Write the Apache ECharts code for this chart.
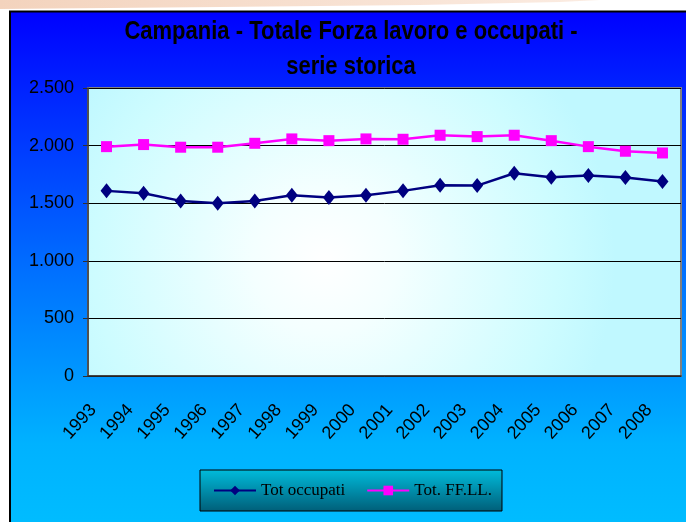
<!DOCTYPE html>
<html>
<head>
<meta charset="utf-8">
<script src="https://cdn.jsdelivr.net/npm/echarts@6/dist/echarts.min.js"></script>
<style>
  html, body { margin: 0; padding: 0; background: #fff; }
  #chart { width: 686px; height: 522px; }
</style>
</head>
<body>
<div id="chart"></div>
<script>
// dati (migliaia)
var anni = ['1993', '1994', '1995', '1996', '1997', '1998', '1999', '2000',
  '2001', '2002', '2003', '2004', '2005', '2006', '2007', '2008'];
var totOccupati = [1607, 1587, 1520, 1500, 1520, 1569, 1549, 1569,
  1607, 1656, 1653, 1760, 1726, 1740, 1723, 1688];
var totFFLL = [1991, 2009, 1986, 1986, 2020, 2058, 2043, 2058,
  2055, 2090, 2078, 2090, 2043, 1991, 1951, 1936];
var titolo = ['Campania - Totale Forza lavoro e occupati -', 'serie storica'];
var yMin = 0, yMax = 2500, yStep = 500;

var myChart = echarts.init(document.getElementById('chart'), null, { renderer: 'canvas' });

// separatore delle migliaia con il punto
function fmt (v) {
  return String(v).replace(/\B(?=(\d{3})+(?!\d))/g, '.');
}

var option = {
  animation: false,
  backgroundColor: '#ffffff',
  color: ['#000080', '#ff00ff'],
  graphic: [
    // fascia color pesca in alto
    {
      type: 'polygon',
      z: -20,
      shape: { points: [[0, 0], [600, 0], [560, 2], [420, 5], [220, 7], [0, 9]] },
      style: {
        fill: new echarts.graphic.LinearGradient(0, 0, 1, 0, [
          { offset: 0, color: '#f3d3bd' },
          { offset: 1, color: '#fbece2' }
        ])
      }
    },
    // sfondo blu del riquadro
    {
      type: 'rect',
      z: -10,
      shape: { x: 10, y: 11.5, width: 700, height: 600 },
      style: {
        fill: new echarts.graphic.LinearGradient(0, 0, 0, 1, [
          { offset: 0, color: '#0000ff' },
          { offset: 0.15, color: '#0028ff' },
          { offset: 0.45, color: '#0074ff' },
          { offset: 0.72, color: '#00b2ff' },
          { offset: 1, color: '#00c8ff' }
        ]),
        stroke: '#000000',
        lineWidth: 2
      }
    },
    {
      type: 'text',
      x: 351,
      y: 32,
      scaleY: 1.15,
      style: {
        text: titolo[0],
        textAlign: 'center',
        textVerticalAlign: 'middle',
        font: 'bold 22px "Liberation Sans", Arial, sans-serif',
        fill: '#000000'
      }
    },
    {
      type: 'text',
      x: 351,
      y: 67,
      scaleY: 1.15,
      style: {
        text: titolo[1],
        textAlign: 'center',
        textVerticalAlign: 'middle',
        font: 'bold 22px "Liberation Sans", Arial, sans-serif',
        fill: '#000000'
      }
    }
  ],
  legend: {
    left: 200,
    top: 470,
    padding: [12, 10, 12, 13],
    itemGap: 21,
    itemWidth: 42,
    itemHeight: 12,
    backgroundColor: new echarts.graphic.LinearGradient(0, 0, 0, 1, [
      { offset: 0, color: '#00bcdc' },
      { offset: 1, color: '#005e78' }
    ]),
    borderColor: '#000000',
    borderWidth: 1,
    textStyle: {
      color: '#000000',
      fontFamily: '"Liberation Serif", "Times New Roman", serif',
      fontSize: 17
    }
  },
  grid: {
    left: 88,
    right: 5,
    top: 88,
    bottom: 146,
    show: true,
    borderColor: '#808080',
    borderWidth: 2,
    backgroundColor: new echarts.graphic.RadialGradient(0.4, 0.6, 1, [
      { offset: 0, color: '#ffffff' },
      { offset: 0.25, color: '#f4ffff' },
      { offset: 0.8, color: '#cdfcff' },
      { offset: 1, color: '#c0f8ff' }
    ])
  },
  xAxis: {
    type: 'category',
    data: anni,
    boundaryGap: true,
    axisLine: { lineStyle: { color: '#303030', width: 1.5 } },
    axisTick: { length: 5, lineStyle: { color: '#303030', width: 1.5 } },
    axisLabel: {
      rotate: 48,
      margin: 16,
      padding: [0, 20, 0, 0],
      interval: 0,
      color: '#000000',
      fontFamily: '"Liberation Sans", Arial, sans-serif',
      fontSize: 18
    },
    splitLine: { show: false }
  },
  yAxis: {
    type: 'value',
    min: yMin,
    max: yMax,
    interval: yStep,
    axisLine: { show: true, lineStyle: { color: '#404040', width: 1.5 } },
    axisTick: { show: true, length: 5, lineStyle: { color: '#303030' } },
    axisLabel: {
      margin: 14,
      color: '#000000',
      fontFamily: '"Liberation Sans", Arial, sans-serif',
      fontSize: 18,
      formatter: fmt
    },
    splitLine: { lineStyle: { color: '#000000', width: 1 } }
  },
  series: [
    {
      name: 'Tot occupati',
      type: 'line',
      data: totOccupati,
      symbol: 'diamond',
      symbolSize: [12, 15],
      lineStyle: { width: 2.5, color: '#000080' },
      itemStyle: { color: '#000080' }
    },
    {
      name: 'Tot. FF.LL.',
      type: 'line',
      data: totFFLL,
      symbol: 'rect',
      symbolSize: 11,
      lineStyle: { width: 2.5, color: '#ff00ff' },
      itemStyle: { color: '#ff00ff' }
    }
  ]
};

myChart.setOption(option);
</script>
</body>
</html>
